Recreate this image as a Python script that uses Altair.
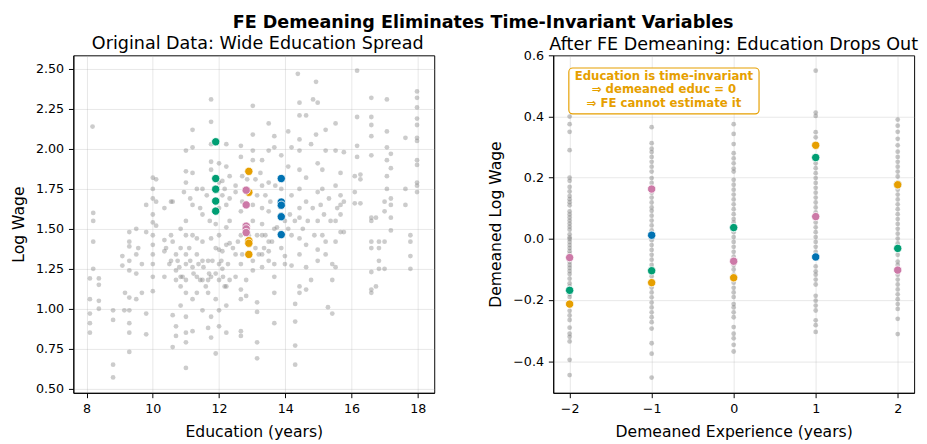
import altair as alt
import pandas as pd

# ---------------- data ----------------
# Left panel: background cloud (education, log wage)
GRAY_LEFT = [
    (8.18, 2.14), (8.2, 1.60), (8.2, 1.55), (8.2, 1.42), (8.2, 1.25),
    (8.1, 1.19), (8.1, 1.06), (8.1, 0.97), (8.1, 0.91), (8.1, 0.85),
    (8.37, 1.19), (8.37, 1.15), (8.37, 1.05), (8.37, 1.0),
    (8.8, 0.99), (8.8, 0.93), (8.8, 0.65), (8.8, 0.57),
    (9.08, 1.33), (9.08, 1.27), (9.14, 0.99), (9.29, 1.48), (9.29, 1.42), (9.29, 1.39),
    (9.29, 1.30), (9.29, 1.24), (9.29, 1.07), (9.29, 0.99), (9.29, 0.91), (9.29, 0.85),
    (9.29, 0.73), (9.16, 1.10), (9.5, 1.50), (9.5, 1.34), (9.5, 1.22), (9.5, 1.06),
    (9.67, 1.10), (9.67, 1.28), (9.8, 0.97), (9.8, 0.84), (9.8, 1.48), (9.8, 1.65),
    (9.56, 1.38),
    (10, 1.82), (10, 1.75), (10, 1.69), (10, 1.59), (10, 1.54), (10, 1.46), (10, 1.40),
    (10, 1.34), (10, 1.28), (10, 1.20), (10, 1.11),
    (10.1, 1.81), (10.1, 1.67), (10.1, 1.52),
    (10.35, 1.63), (10.35, 1.43), (10.35, 1.36), (10.35, 1.20),
    (10.55, 1.67), (10.55, 1.46), (10.55, 1.30), (10.6, 0.96), (10.6, 0.76),
    (10.7, 1.34), (10.7, 1.24), (10.7, 1.18), (10.7, 0.89), (10.7, 0.83),
    (10.84, 1.50), (10.84, 1.38), (10.84, 1.20), (10.84, 1.14), (10.84, 1.02),
    (11, 1.99), (11, 1.86), (11, 1.79), (11, 1.55), (11, 1.46), (11, 1.34), (11, 1.28),
    (11, 1.18), (11, 1.10), (11, 0.95), (11, 0.85), (11, 0.79), (11, 0.63),
    (11.2, 2.12), (11.2, 2.01), (11.2, 1.85), (11.2, 1.65), (11.2, 1.46), (11.2, 1.26),
    (11.2, 1.06), (11.2, 0.86),
    (11.33, 1.75), (11.33, 1.44), (11.33, 1.34), (11.33, 1.20), (11.33, 1.10),
    (11.5, 1.75), (11.5, 1.59), (11.5, 1.42), (11.5, 1.30), (11.5, 1.18), (11.5, 0.99),
    (11.67, 1.30), (11.67, 1.18), (11.67, 1.10), (11.67, 0.88),
    (11.76, 2.31), (11.76, 2.17), (11.76, 2.03), (11.76, 1.92), (11.76, 1.87),
    (11.76, 1.44), (11.76, 1.20), (11.76, 0.95), (11.76, 0.82),
    (11.9, 0.72), (11.9, 1.38), (11.9, 1.53), (11.9, 1.22), (11.9, 1.06),
    (12, 1.91), (12, 1.79), (12, 1.63), (12, 1.46), (12, 1.37), (12, 1.28), (12, 1.18),
    (12, 0.99), (12, 0.89),
    (12.1, 1.80), (12.1, 1.71), (12.1, 1.36), (12.1, 1.25),
    (12.22, 2.03), (12.22, 1.89), (12.22, 1.65), (12.22, 1.51), (12.22, 1.40),
    (12.22, 1.14), (12.22, 1.02), (12.22, 0.85),
    (12.32, 1.69), (12.32, 1.55), (12.32, 1.41), (12.32, 1.18),
    (12.5, 1.77), (12.5, 1.34), (12.5, 1.20),
    (12.66, 2.02), (12.66, 1.95), (12.66, 1.61), (12.66, 1.46), (12.66, 1.28),
    (12.66, 1.12), (12.66, 1.06), (12.66, 0.86), (12.66, 0.83),
    (12.82, 1.18), (12.82, 1.08),
    (13.02, 2.27), (13.02, 2.09), (13.02, 1.99), (13.02, 1.93), (13.02, 1.65),
    (13.02, 1.55), (13.02, 1.30), (13.02, 1.24),
    (13.15, 1.71), (13.15, 1.46), (13.15, 1.04), (13.15, 0.98), (13.15, 0.79), (13.15, 0.69),
    (13.3, 1.93), (13.3, 1.77), (13.3, 1.63), (13.3, 1.53), (13.3, 1.46), (13.3, 1.34), (13.3, 1.26),
    (13.5, 2.16), (13.5, 1.99), (13.5, 1.79), (13.5, 1.61), (13.5, 1.42), (13.5, 1.36), (13.5, 1.30),
    (13.67, 2.08), (13.67, 2.01), (13.67, 1.50), (13.67, 1.28), (13.67, 1.20), (13.67, 1.10), (13.67, 0.91),
    (13.88, 1.96), (13.88, 1.59), (13.88, 1.38),
    (13.99, 1.55), (13.99, 1.33), (13.99, 1.28),
    (14.09, 2.11), (14.09, 1.89), (14.19, 2.01), (14.19, 1.71), (14.19, 1.46), (14.19, 1.27),
    (14.3, 1.03), (14.3, 0.92), (14.3, 0.77), (14.3, 0.65),
    (14.38, 2.47), (14.43, 2.29), (14.43, 2.21), (14.43, 2.06), (14.43, 1.99), (14.43, 1.87),
    (14.43, 1.75), (14.43, 1.63), (14.43, 1.57), (14.43, 1.44), (14.43, 1.34), (14.43, 1.14), (14.43, 1.10),
    (14.63, 2.21), (14.63, 1.82), (14.63, 1.67), (14.63, 1.40), (14.63, 1.26), (14.63, 1.12),
    (14.78, 1.18), (14.78, 2.03), (14.84, 2.31), (14.93, 2.42), (14.98, 2.29), (14.93, 2.09),
    (14.98, 1.91), (14.98, 1.73), (14.98, 1.55), (14.98, 1.37), (14.98, 1.30),
    (15.12, 1.46), (15.12, 1.75), (15.12, 1.87),
    (15.22, 2.12), (15.22, 1.99), (15.22, 1.42), (15.22, 1.34),
    (15.29, 1.01), (15.42, 0.97), (15.42, 1.28), (15.42, 1.18),
    (15.52, 2.16), (15.52, 1.99), (15.52, 1.77), (15.52, 1.55), (15.52, 1.42), (15.52, 1.26),
    (15.67, 1.85), (15.67, 1.71), (15.67, 1.65), (15.67, 1.59), (15.67, 1.48),
    (15.77, 1.98), (15.77, 1.67), (15.77, 1.48),
    (16.1, 1.83), (16.1, 1.73), (16.1, 1.66),
    (16.17, 2.49), (16.17, 2.20), (16.17, 2.02), (16.17, 1.95),
    (16.27, 1.84), (16.27, 1.81), (16.27, 1.66),
    (16.6, 2.32), (16.6, 2.20), (16.6, 2.15), (16.6, 2.08), (16.6, 1.96), (16.6, 1.57),
    (16.6, 1.55), (16.6, 1.42), (16.6, 1.38), (16.6, 1.23), (16.6, 1.12), (16.6, 1.10),
    (16.74, 1.57), (16.74, 1.14),
    (16.83, 1.42), (16.83, 1.38), (16.83, 1.30), (16.83, 1.25),
    (17, 1.67), (17, 1.61), (17, 1.42), (17, 1.25),
    (17.07, 2.31), (17.07, 2.11), (17.07, 2.01), (17.07, 1.93), (17.07, 1.83), (17.07, 1.75),
    (17.19, 1.97), (17.19, 1.88), (17.19, 1.69), (17.19, 1.65), (17.19, 1.57), (17.19, 1.49),
    (17.63, 2.07), (17.63, 1.75), (17.63, 1.65),
    (17.78, 1.46), (17.78, 1.42), (17.78, 1.33), (17.78, 1.25),
    (17.98, 2.36), (17.98, 2.32), (17.98, 2.26), (17.98, 2.19), (17.98, 2.15), (17.98, 2.07),
    (17.98, 2.05), (17.98, 1.93), (17.98, 1.90), (17.98, 1.79), (17.98, 1.77), (17.98, 1.73),
    (10.4, 1.38), (10.5, 1.28), (10.6, 1.42), (10.75, 1.30), (10.8, 1.26), (10.9, 1.20),
    (11.1, 1.38), (11.13, 1.30), (11.23, 1.22), (11.38, 1.28), (11.43, 1.18), (11.53, 1.26),
    (11.6, 1.14), (11.7, 1.22), (11.8, 1.30), (12.07, 1.30), (12.12, 1.20), (12.17, 1.14),
    (12.27, 1.28), (12.42, 1.38), (12.57, 1.42), (12.7, 1.34), (12.9, 1.46), (13.1, 1.38),
    (13.2, 1.34), (13.36, 1.38), (13.4, 1.46), (13.6, 1.42), (13.75, 1.51), (13.85, 1.46),
    (14.09, 1.50), (14.14, 1.59), (14.29, 1.55), (14.53, 1.50), (14.68, 1.55), (14.83, 1.63),
    (14.88, 1.46), (15.07, 1.65), (15.17, 1.59), (15.32, 1.69), (15.37, 1.55), (15.57, 1.63),
    (10.6, 1.67), (10.94, 1.73), (11.13, 1.69), (11.43, 1.63), (11.63, 1.71), (11.72, 1.55),
    (12.17, 1.75), (12.32, 1.83), (12.5, 1.73), (12.7, 1.83), (12.7, 1.67), (12.85, 1.81),
    (13.1, 1.81), (13.25, 1.85), (13.4, 1.71), (13.55, 1.67), (13.7, 1.77), (13.88, 1.75),
]

# Right panel: background cloud, demeaned log wage per demeaned-experience column
EXP_COLUMNS = [-2, -1, 0, 1, 2]
DEM_M2 = [0.40, 0.375, 0.35, 0.29, 0.20, 0.19, 0.17, 0.155, 0.14, 0.13, 0.12, 0.11, 0.09,
          0.08, 0.07, 0.06, 0.05, 0.04, 0.03, 0.015, 0.005, 0.0, -0.01, -0.02, -0.03, -0.04,
          -0.05, -0.075, -0.085, -0.095, -0.105, -0.115, -0.13, -0.145, -0.155, -0.18, -0.19,
          -0.21, -0.235, -0.25, -0.265, -0.29, -0.31, -0.32, -0.335, -0.395, -0.445]
DEM_M1 = [0.365, 0.313, 0.295, 0.284, 0.268, 0.252, 0.236, 0.22, 0.199, 0.183, 0.151, 0.135,
          0.119, 0.103, 0.092, 0.076, 0.06, 0.044, 0.028, -0.004, -0.02, -0.036, -0.052, -0.068,
          -0.085, -0.122, -0.159, -0.175, -0.191, -0.208, -0.224, -0.24, -0.256, -0.272, -0.293,
          -0.341, -0.375, -0.453]
DEM_0 = [0.375, 0.343, 0.31, 0.28, 0.263, 0.247, 0.23, 0.22, 0.193, 0.177, 0.161, 0.145, 0.129,
         0.113, 0.097, 0.081, 0.065, 0.054, 0.022, 0.006, -0.01, -0.026, -0.042, -0.058, -0.085,
         -0.1, -0.117, -0.143, -0.16, -0.175, -0.19, -0.213, -0.224, -0.24, -0.256, -0.288,
         -0.31, -0.325, -0.346, -0.368]
DEM_P1 = [0.55, 0.413, 0.402, 0.349, 0.332, 0.247, 0.231, 0.215, 0.199, 0.183, 0.167, 0.151,
          0.135, 0.119, 0.103, 0.087, 0.054, 0.038, 0.022, 0.006, -0.01, -0.026, -0.042, -0.09,
          -0.106, -0.117, -0.133, -0.149, -0.186, -0.202, -0.218, -0.234, -0.266, -0.282, -0.304]
DEM_P2 = [0.39, 0.37, 0.35, 0.327, 0.306, 0.285, 0.268, 0.252, 0.236, 0.22, 0.204, 0.161, 0.145,
          0.129, 0.113, 0.097, 0.081, 0.065, 0.049, 0.033, 0.017, 0.001, -0.015, -0.052, -0.074,
          -0.085, -0.117, -0.133, -0.149, -0.165, -0.181, -0.197, -0.213, -0.229, -0.261, -0.311]

# Highlighted individuals (drawn in this order)
IND_NAMES = ["blue", "green", "orange", "pink"]
IND_COLORS = ["#0072B2", "#009E73", "#E69F00", "#CC79A7"]
IND_EDUC = [13.88, 11.90, 12.90, 12.82]
IND_LWAGE = [
    [1.815, 1.668, 1.648, 1.576, 1.464],
    [2.045, 1.815, 1.748, 1.674, 1.611],
    [1.86, 1.729, 1.426, 1.41, 1.34],
    [1.742, 1.65, 1.517, 1.50, 1.477],
]
IND_DEMEANED = [  # at demeaned experience -2, -1, 0, 1, 2
    [-0.168, 0.012, 0.037, -0.059, 0.177],
    [-0.168, -0.104, 0.037, 0.266, -0.031],
    [-0.213, -0.143, -0.127, 0.306, 0.177],
    [-0.061, 0.163, -0.073, 0.073, -0.102],
]

NOTE_LINES = ["Education is time-invariant", "\u21d2 demeaned educ = 0", "\u21d2 FE cannot estimate it"]

# ---------------- tables ----------------
left_gray = pd.DataFrame(GRAY_LEFT, columns=["educ", "lwage"])
right_cols = [DEM_M2, DEM_M1, DEM_0, DEM_P1, DEM_P2]
right_gray = pd.DataFrame(
    [(e, v) for e, col in zip(EXP_COLUMNS, right_cols) for v in col],
    columns=["exp", "dlwage"],
)
ind_rows = []
for k, name in enumerate(IND_NAMES):
    for j in range(5):
        ind_rows.append({"ind": name, "order": k, "educ": IND_EDUC[k],
                         "lwage": IND_LWAGE[k][j], "exp": EXP_COLUMNS[j],
                         "dlwage": IND_DEMEANED[k][j]})
ind_df = pd.DataFrame(ind_rows)

W, H = 370, 346
color_scale = alt.Scale(domain=IND_NAMES, range=IND_COLORS)

# ---------------- left panel ----------------
lx = alt.X("educ:Q", title="Education (years)",
           scale=alt.Scale(domain=[7.6, 18.5], nice=False, zero=False),
           axis=alt.Axis(values=[8, 10, 12, 14, 16, 18], format="d"))
ly = alt.Y("lwage:Q", title="Log Wage",
           scale=alt.Scale(domain=[0.474, 2.586], nice=False, zero=False),
           axis=alt.Axis(values=[0.5, 0.75, 1.0, 1.25, 1.5, 1.75, 2.0, 2.25, 2.5], format=".2f"))

left_bg = alt.Chart(left_gray).mark_circle(size=24, color="#808080", opacity=0.4).encode(x=lx, y=ly)
left_ind = alt.Chart(ind_df).mark_circle(size=72, opacity=1, stroke="white", strokeWidth=0.8).encode(
    x=lx, y=ly,
    color=alt.Color("ind:N", scale=color_scale, legend=None),
    order=alt.Order("order:Q"),
)
left = alt.layer(left_bg, left_ind).properties(
    width=W, height=H,
    title=alt.TitleParams("Original Data: Wide Education Spread", fontSize=18,
                          fontWeight="normal", offset=2, dx=4),
)

# ---------------- right panel ----------------
rx = alt.X("exp:Q", title="Demeaned Experience (years)",
           scale=alt.Scale(domain=[-2.2, 2.2], nice=False, zero=False),
           axis=alt.Axis(values=[-2, -1, 0, 1, 2], format="d"))
ry = alt.Y("dlwage:Q", title="Demeaned Log Wage",
           scale=alt.Scale(domain=[-0.503, 0.6], nice=False, zero=False),
           axis=alt.Axis(values=[-0.4, -0.2, 0.0, 0.2, 0.4, 0.6], format=".1f"))

right_bg = alt.Chart(right_gray).mark_circle(size=24, color="#808080", opacity=0.45).encode(x=rx, y=ry)
right_ind = alt.Chart(ind_df).mark_circle(size=72, opacity=1, stroke="white", strokeWidth=0.8).encode(
    x=rx, y=ry,
    color=alt.Color("ind:N", scale=color_scale, legend=None),
    order=alt.Order("order:Q"),
)
note_df = pd.DataFrame({"k": [0]})
note_box = alt.Chart(note_df).mark_rect(
    fill="white", fillOpacity=0.85, stroke="#E69F00", strokeWidth=1.2, cornerRadius=4
).encode(x=alt.value(16), x2=alt.value(211), y=alt.value(13), y2=alt.value(60))
note_text = alt.Chart(note_df).mark_text(
    text=NOTE_LINES, align="center", baseline="top", fontSize=12, fontWeight="bold",
    color="#E69F00", lineHeight=14, font="DejaVu Sans",
).encode(x=alt.value(113.5), y=alt.value(16))

right = alt.layer(right_bg, right_ind, note_box, note_text).properties(
    width=W, height=H,
    title=alt.TitleParams("After FE Demeaning: Education Drops Out", fontSize=18,
                          fontWeight="normal", offset=-4.5),
)

chart = alt.hconcat(left, right, spacing=53).properties(
    title=alt.TitleParams("FE Demeaning Eliminates Time-Invariant Variables",
                          fontSize=18, fontWeight="bold", anchor="middle", offset=4, dx=19),
    padding={"left": 2, "top": 0, "right": 0, "bottom": 0},
).configure(font="DejaVu Sans").configure_view(
    stroke="black", strokeWidth=1
).configure_axis(
    labelFont="DejaVu Sans", titleFont="DejaVu Sans",
    labelFontSize=13, titleFontSize=16, titleFontWeight="normal",
    labelColor="black", titleColor="black",
    domainColor="black", tickColor="black", tickSize=5,
    gridColor="#b0b0b0", gridOpacity=0.3, gridWidth=1,
    titlePadding=9, labelPadding=5,
).configure_title(font="DejaVu Sans", color="black")

chart.save("out.html", embed_options={"renderer": "svg", "actions": False})
